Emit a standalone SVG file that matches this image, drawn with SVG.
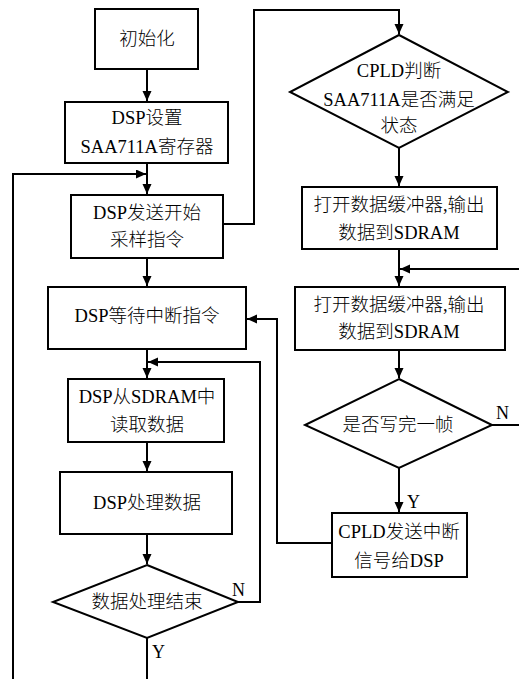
<svg xmlns="http://www.w3.org/2000/svg" width="519" height="679" viewBox="0 0 519 679">
<style>
.n{fill:#fff;stroke:#000;stroke-width:2}
.t{font-family:"Liberation Serif","Noto Sans CJK SC",serif;font-size:18.5px;font-weight:300;fill:#000;text-anchor:middle}
.l{font-family:"Liberation Serif",serif;font-size:18px;fill:#000}
.c{fill:none;stroke:#000;stroke-width:2}
</style>
<defs>
<marker id="a" markerUnits="userSpaceOnUse" markerWidth="11" markerHeight="10" refX="10" refY="4.5" orient="auto">
<path d="M0,0 L10,4.5 L0,9 z" fill="#000"/>
</marker>
</defs>
<rect width="519" height="679" fill="#fff"/>
<g id="connectors">
<path class="c" d="M147,69 V101" marker-end="url(#a)"/>
<path class="c" d="M147,163 V194" marker-end="url(#a)"/>
<path class="c" d="M13,679 V174 H146" marker-end="url(#a)"/>
<path class="c" d="M223,224 H254 V10 H399 V34" marker-end="url(#a)"/>
<path class="c" d="M147,258 V286" marker-end="url(#a)"/>
<path class="c" d="M147,349 V378" marker-end="url(#a)"/>
<path class="c" d="M238,602 H260 V362 H148" marker-end="url(#a)"/>
<path class="c" d="M147,442 V471" marker-end="url(#a)"/>
<path class="c" d="M147,534 V564" marker-end="url(#a)"/>
<path class="c" d="M147,638 V679"/>
<path class="c" d="M399,148 V186" marker-end="url(#a)"/>
<path class="c" d="M399,249 V286" marker-end="url(#a)"/>
<path class="c" d="M519,269 H400" marker-end="url(#a)"/>
<path class="c" d="M399,350 V378" marker-end="url(#a)"/>
<path class="c" d="M492,425 H519"/>
<path class="c" d="M399,468 V512" marker-end="url(#a)"/>
<path class="c" d="M332,543 H277 V319 H247" marker-end="url(#a)"/>
<text class="l" x="232" y="596">N</text>
<text class="l" x="152" y="658">Y</text>
<text class="l" x="496" y="419">N</text>
<text class="l" x="407" y="508">Y</text>
</g>
<g id="init">
<rect class="n" x="95" y="9" width="103" height="60"/>
<text class="t" x="147" y="45">初始化</text>
</g>
<g id="dsp-setup">
<rect class="n" x="65" y="102" width="163" height="61"/>
<text class="t" x="147" y="124">DSP设置</text>
<text class="t" x="147" y="153">SAA711A寄存器</text>
</g>
<g id="dsp-start">
<rect class="n" x="71" y="195" width="152" height="63"/>
<text class="t" x="147" y="219">DSP发送开始</text>
<text class="t" x="147" y="246">采样指令</text>
</g>
<g id="dsp-wait">
<rect class="n" x="48" y="287" width="198" height="62"/>
<text class="t" x="147" y="322">DSP等待中断指令</text>
</g>
<g id="dsp-read">
<rect class="n" x="68" y="379" width="156" height="63"/>
<text class="t" x="147" y="403">DSP从SDRAM中</text>
<text class="t" x="147" y="431">读取数据</text>
</g>
<g id="dsp-process">
<rect class="n" x="60" y="472" width="172" height="62"/>
<text class="t" x="147" y="509">DSP处理数据</text>
</g>
<g id="process-done">
<path class="n" d="M147,565 L238,602 L147,638 L53,602 Z"/>
<text class="t" x="147" y="608">数据处理结束</text>
</g>
<g id="cpld-judge">
<path class="n" d="M399,35 L508,92 L399,148 L290,92 Z"/>
<text class="t" x="399" y="77">CPLD判断</text>
<text class="t" x="399" y="106">SAA711A是否满足</text>
<text class="t" x="399" y="132">状态</text>
</g>
<g id="buffer1">
<rect class="n" x="302" y="187" width="195" height="62"/>
<text class="t" x="399" y="211">打开数据缓冲器,输出</text>
<text class="t" x="399" y="239">数据到SDRAM</text>
</g>
<g id="buffer2">
<rect class="n" x="295" y="287" width="210" height="63"/>
<text class="t" x="399" y="311">打开数据缓冲器,输出</text>
<text class="t" x="399" y="338">数据到SDRAM</text>
</g>
<g id="frame-done">
<path class="n" d="M399,379 L492,425 L399,468 L305,425 Z"/>
<text class="t" x="398" y="431">是否写完一帧</text>
</g>
<g id="cpld-int">
<rect class="n" x="332" y="513" width="135" height="64"/>
<text class="t" x="399" y="538">CPLD发送中断</text>
<text class="t" x="399" y="567">信号给DSP</text>
</g>
</svg>
